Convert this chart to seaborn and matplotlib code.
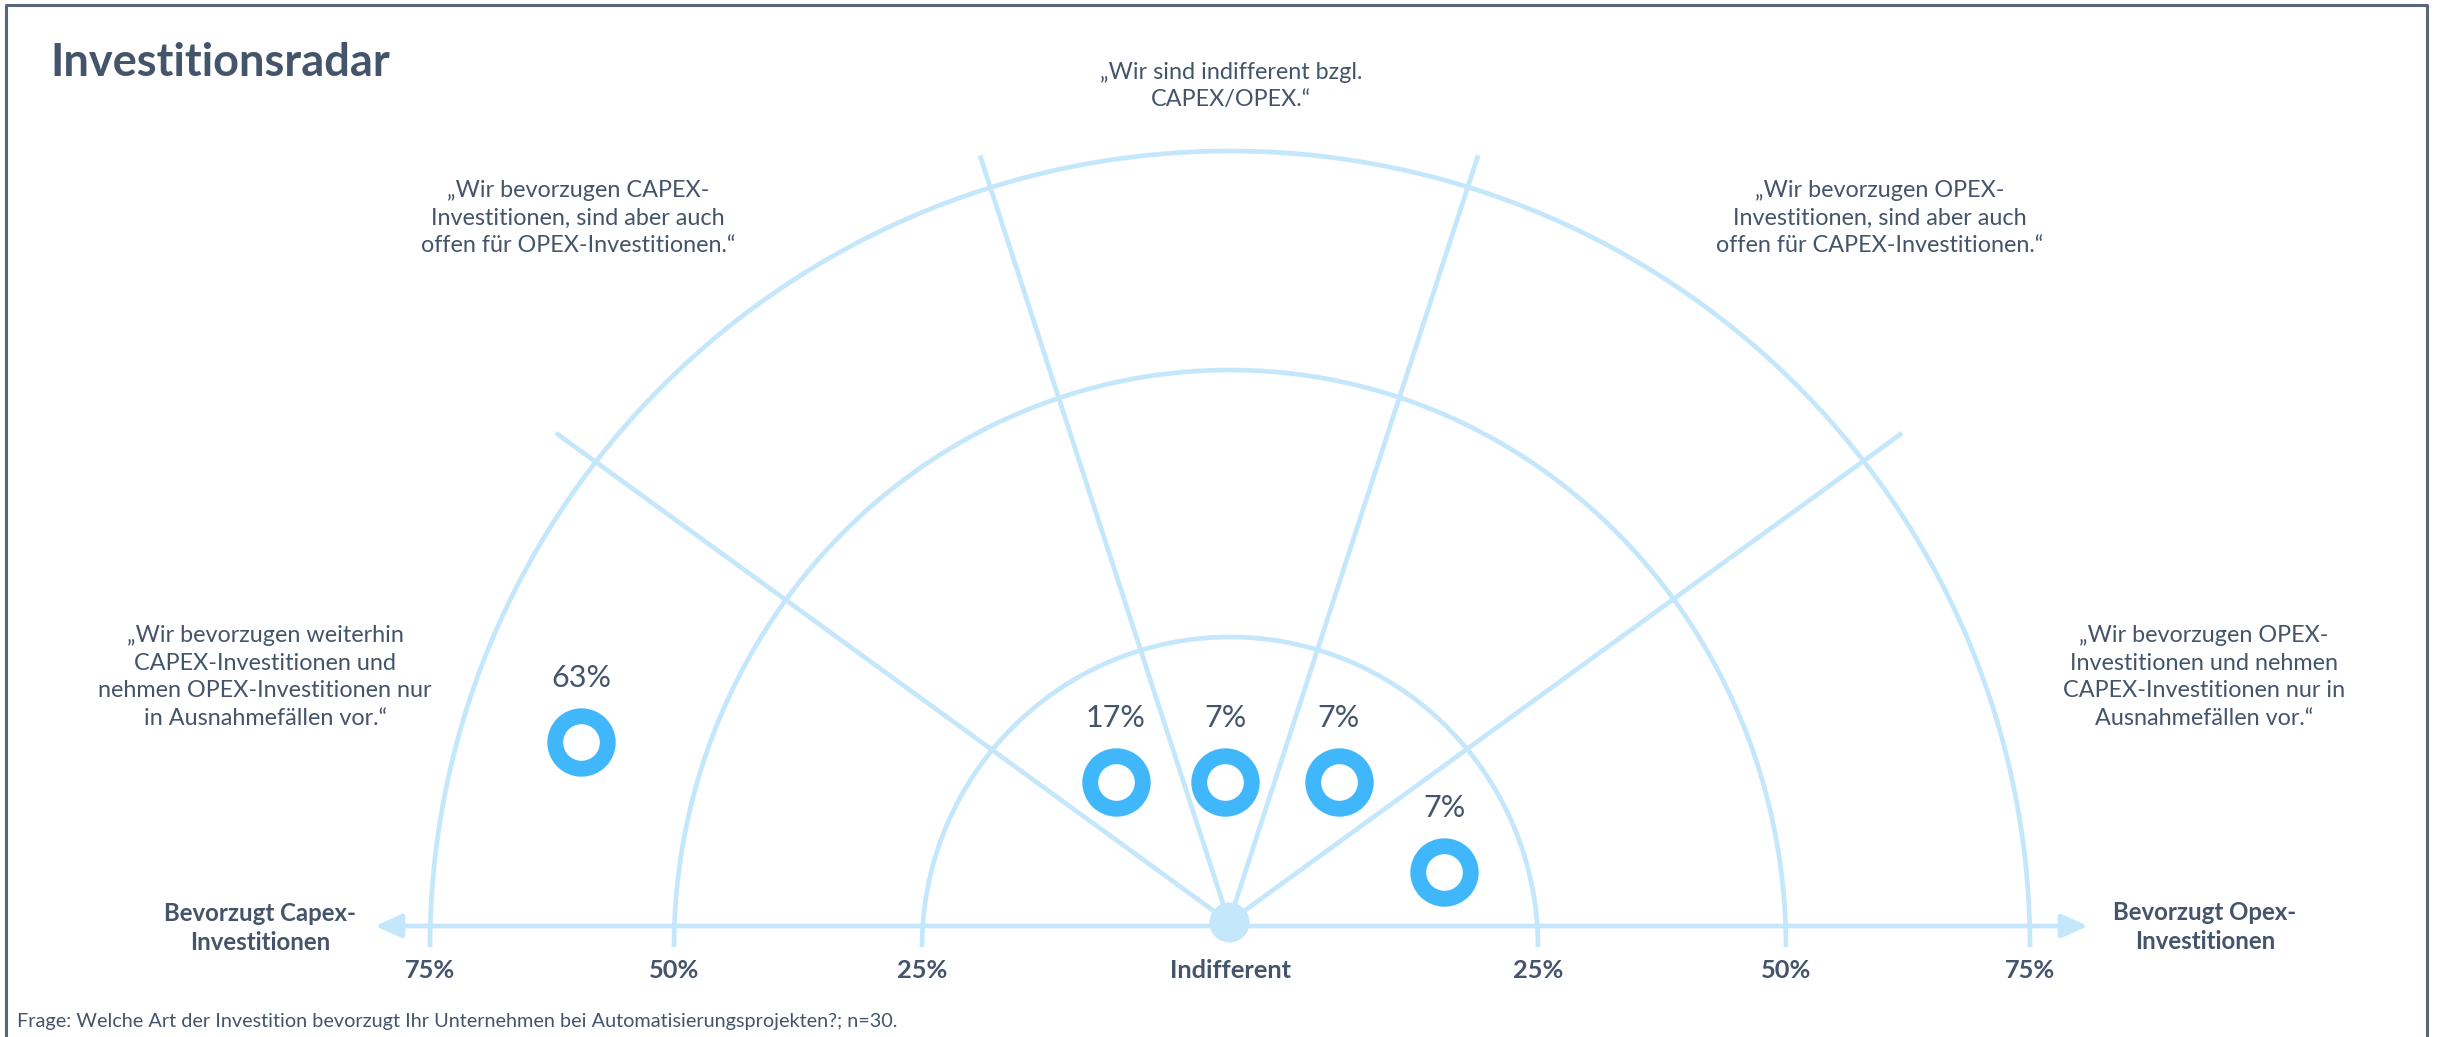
import numpy as np
import pandas as pd
import matplotlib.pyplot as plt
import seaborn as sns

# survey data
statements = [
    '„Wir bevorzugen weiterhin\nCAPEX-Investitionen und\nnehmen OPEX-Investitionen nur\nin Ausnahmefällen vor.“',
    '„Wir bevorzugen CAPEX-\nInvestitionen, sind aber auch\noffen für OPEX-Investitionen.“',
    '„Wir sind indifferent bzgl.\nCAPEX/OPEX.“',
    '„Wir bevorzugen OPEX-\nInvestitionen, sind aber auch\noffen für CAPEX-Investitionen.“',
    '„Wir bevorzugen OPEX-\nInvestitionen und nehmen\nCAPEX-Investitionen nur in\nAusnahmefällen vor.“',
]
shares = [63, 17, 7, 7, 7]
scale_levels = [75, 50, 25]
scale_labels = ['75%', '50%', '25%', 'Indifferent', '25%', '50%', '75%']
title = 'Investitionsradar'
footnote = 'Frage: Welche Art der Investition bevorzugt Ihr Unternehmen bei Automatisierungsprojekten?; n=30.'
left_label = 'Bevorzugt Capex-\nInvestitionen'
right_label = 'Bevorzugt Opex-\nInvestitionen'

# layout (pixel space of the canvas)
W, H = 2438, 1037
cx, cy = 1229, 922          # hub of the radar
arc_cy = 947                # arcs sit slightly below the axis line
axis_y = 926
arc_radius = {25: (308, 310), 50: (556, 577), 75: (800, 796)}
spoke_angle = [36, 72, 108, 144]
spoke_len = [832, 806, 806, 832]
ring_angle = [164.5, 129, 91.5, 52, 13]
ring_dist = [672, 180, 140, 178, 221]
stmt_pos = [(265, 677), (578, 218), (1231, 86), (1880, 218), (2204, 677)]

text_col = '#44546A'
light = '#C4E7FC'
ring_col = '#40B7FA'

sns.set_theme(style='white')
plt.rcParams['font.family'] = ['Lato', 'DejaVu Sans']

fig = plt.figure(figsize=(W / 100, H / 100), dpi=100)
ax = fig.add_axes([0, 0, 1, 1])
ax.set_xlim(0, W)
ax.set_ylim(H, 0)
ax.axis('off')

# arcs
t = np.linspace(0, np.pi, 400)
for lvl in scale_levels:
    rx, ry = arc_radius[lvl]
    ax.plot(cx + 1 + rx * np.cos(t), arc_cy - ry * np.sin(t), color=light, lw=3.4, zorder=1,
            solid_capstyle='butt')

# spokes
for a, L in zip(spoke_angle, spoke_len):
    ax.plot([cx, cx + L * np.cos(np.radians(a))], [cy, cy - L * np.sin(np.radians(a))],
            color=light, lw=3.4, zorder=1, solid_capstyle='butt')

# horizontal axis with arrows
for x_end in [375, 2088]:
    ax.annotate('', xy=(x_end, axis_y), xytext=(cx, axis_y),
                arrowprops=dict(arrowstyle='-|>,head_length=1.0,head_width=0.45', color=light,
                                lw=3.4, mutation_scale=16, shrinkA=0, shrinkB=0), zorder=1)

# hub
sns.scatterplot(x=[cx], y=[cy], s=830, color=light, linewidth=0, ax=ax, zorder=4, legend=False)

# rings
rings = pd.DataFrame({
    'share': shares,
    'x': [cx + d * np.cos(np.radians(a)) for a, d in zip(ring_angle, ring_dist)],
    'y': [cy - d * np.sin(np.radians(a)) for a, d in zip(ring_angle, ring_dist)],
})
sns.scatterplot(data=rings, x='x', y='y', s=1430, color='white', edgecolor=ring_col,
                linewidth=11.4, ax=ax, zorder=5, legend=False)
for _, r in rings.iterrows():
    ax.text(r['x'], r['y'] - 64, f"{int(r['share'])}%", ha='center', va='center',
            fontsize=22, color=text_col, zorder=6)

# statements
for s, (x, y) in zip(statements, stmt_pos):
    ax.text(x, y, s, ha='center', va='center', fontsize=16.8, color=text_col, linespacing=1.4)

# scale labels
lx = [cx - arc_radius[75][0], cx - arc_radius[50][0], cx - arc_radius[25][0], cx,
      cx + arc_radius[25][0], cx + arc_radius[50][0], cx + arc_radius[75][0]]
for x, lab in zip(lx, scale_labels):
    ax.text(x + 1, 971, lab, ha='center', va='center', fontsize=18.3, fontweight='bold', color=text_col)

ax.text(260, 928, left_label, ha='center', va='center', fontsize=17.3, fontweight='bold',
        color=text_col, linespacing=1.35)
ax.text(2205, 927, right_label, ha='center', va='center', fontsize=17.3, fontweight='bold',
        color=text_col, linespacing=1.35)

ax.text(50, 76, title, ha='left', va='baseline', fontsize=32.5, fontweight='bold', color=text_col)
ax.text(17, 1022, footnote, ha='left', va='center', fontsize=14.3, color=text_col)

# frame
frame_col = '#5B6578'
ax.plot([6, 6, 2427, 2427], [H, 5, 5, H], color=frame_col, lw=2.2, zorder=7)

fig.savefig('out.png', dpi=100)
